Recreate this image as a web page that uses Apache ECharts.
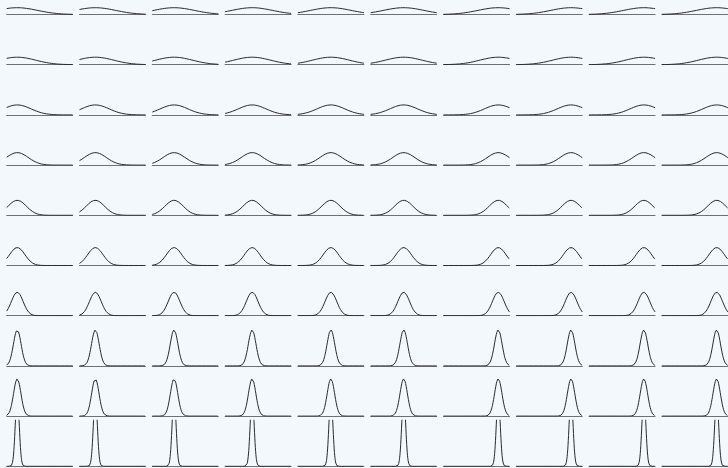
<!DOCTYPE html>
<html>
<head>
<meta charset="utf-8">
<script src="https://cdn.jsdelivr.net/npm/echarts@6/dist/echarts.min.js"></script>
<style>
html,body{margin:0;padding:0;background:#f3f8fc;overflow:hidden;width:728px;height:468px;}
#wrap{position:relative;width:728px;height:468px;overflow:hidden;}
#chart{position:absolute;left:0;top:-40px;width:728px;height:508px;}
</style>
</head>
<body>
<div id="wrap"><div id="chart"></div></div>
<script>
// Column means (position of the peak within each panel's x range 0..1)
const means = [0.16, 0.24, 0.33, 0.41, 0.5, 0.5, 0.83, 0.83, 0.83, 0.83];
// Row standard deviations (top row to bottom row)
const sigmas = [0.307, 0.278, 0.209, 0.167, 0.139, 0.116, 0.0887, 0.058, 0.056, 0.03];
// Shared value range of every panel
const xRange = [0, 1];
const yMax = 8.8;
const samples = 240;

function density(x, mu, s) {
  const z = (x - mu) / s;
  return Math.exp(-0.5 * z * z) / (s * Math.sqrt(2 * Math.PI));
}

const offsetY = 40;
const colLeft0 = 6.7, colStep = 72.8, cellW = 66;
const rowBase0 = 14.5 + offsetY, rowStep = 50.2, cellH = 46;

const grid = [], xAxis = [], yAxis = [], series = [];
let k = 0;
for (let r = 0; r < sigmas.length; r++) {
  for (let c = 0; c < means.length; c++) {
    grid.push({
      left: colLeft0 + c * colStep,
      top: rowBase0 + r * rowStep - cellH,
      width: cellW,
      height: cellH,
      containLabel: false,
      outerBoundsMode: 'none'
    });
    xAxis.push({
      gridIndex: k, type: 'value', min: xRange[0], max: xRange[1],
      axisLine: {show: true, lineStyle: {color: '#6e7079', width: 1}},
      axisTick: {show: false}, axisLabel: {show: false}, splitLine: {show: false}
    });
    yAxis.push({
      gridIndex: k, type: 'value', min: 0, max: yMax, show: false,
      splitLine: {show: false}
    });
    const pts = [];
    for (let i = 0; i <= samples; i++) {
      const x = xRange[0] + (xRange[1] - xRange[0]) * i / samples;
      pts.push([x, density(x, means[c], sigmas[r])]);
    }
    series.push({
      type: 'line', xAxisIndex: k, yAxisIndex: k, data: pts,
      showSymbol: false, symbol: 'none', clip: true, silent: true,
      lineStyle: {color: '#2a2a2a', width: 1}
    });
    k++;
  }
}

const chart = echarts.init(document.getElementById('chart'), null, {renderer: 'canvas'});
chart.setOption({
  backgroundColor: '#f3f8fc',
  animation: false,
  grid, xAxis, yAxis, series
});
</script>
</body>
</html>
